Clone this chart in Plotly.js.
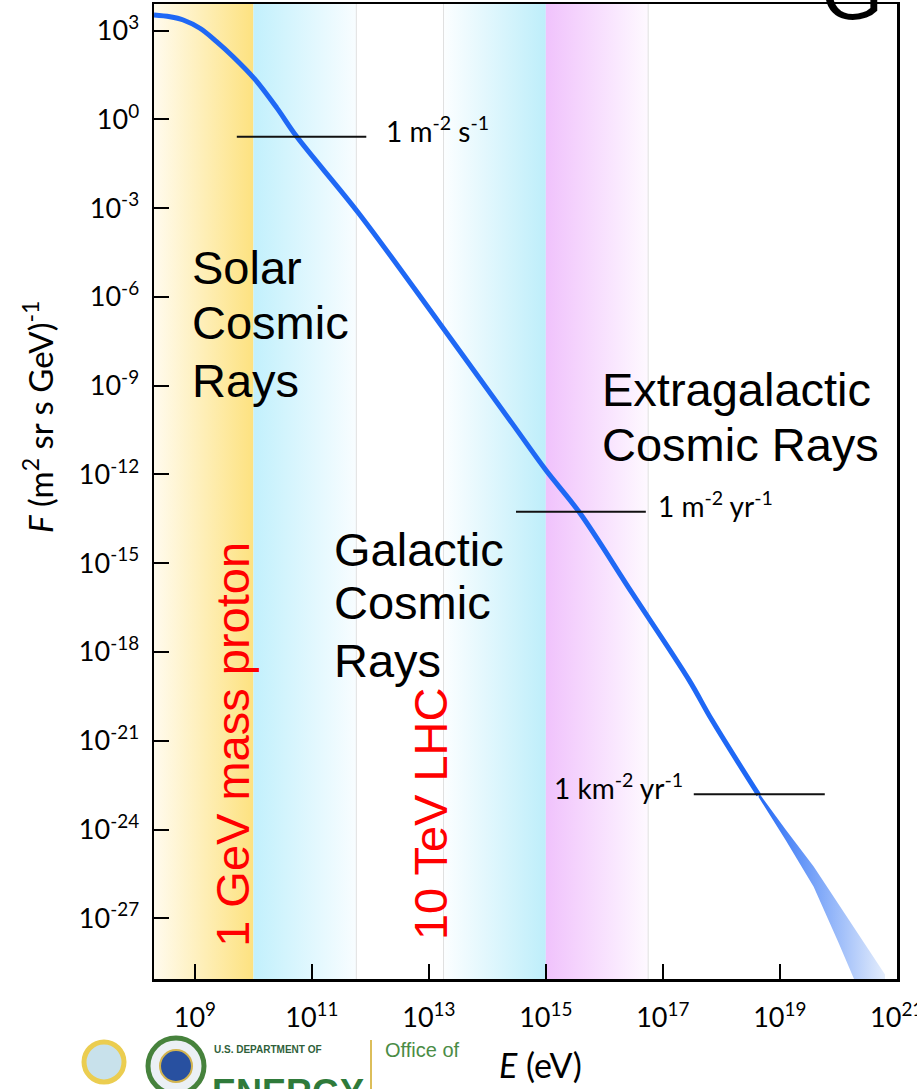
<!DOCTYPE html>
<html>
<head>
<meta charset="utf-8">
<script src="https://cdn.plot.ly/plotly-3.0.1.min.js"></script>
<style>html,body{margin:0;padding:0;background:#fff;}#chart{width:917px;height:1089px;}</style>
</head>
<body>
<div id="chart"></div>
<script>
// ---- data (log10 values) ----
const spectrumLogE = [8.3, 8.573, 8.8, 9.085, 9.37, 9.653, 10.02, 10.4, 10.74, 11.8, 13.18, 14.43, 15.0, 15.57, 16.48, 17.45, 17.84, 18.64];
const spectrumLogF = [3.53, 3.47, 3.36, 3.08, 2.63, 2.12, 1.37, 0.39, -0.58, -3.17, -6.88, -10.29, -11.85, -13.27, -16.02, -18.95, -20.30, -22.83];

// uncertainty band at the highest energies
const bandLogE   = [18.64, 19.1, 19.58, 20.0, 20.48, 20.8];
const bandUpperF = [-22.75, -24.0, -25.25, -26.5, -27.95, -28.9];
const bandLowerF = [-22.91, -24.35, -25.93, -27.8, -30.0, -31.5];

// shaded regions (log10 E bounds)
const solarRegion    = [8.3, 10];
const galacticFadeA  = [10, 11.76];
const galacticFadeB  = [13.25, 15];
const extraRegion    = [15, 16.75];
const fadeEdges      = [11.76, 13.25, 16.75];

// reference flux levels: [logE start, logE end, logF]
const refLevels = [
  [9.716, 11.93, -0.585],
  [14.49, 16.71, -13.26],
  [17.53, 19.77, -22.81]
];
const refLabels = ["1 m<sup>-2</sup> s<sup>-1</sup>", "1 m<sup>-2</sup> yr<sup>-1</sup>", "1 km<sup>-2</sup> yr<sup>-1</sup>"];

// region label lines: [text, logE left, logF centre]
const regionLines = [
  ["Solar", 8.914, -5.02], ["Cosmic", 8.914, -6.88], ["Rays", 8.914, -8.81],
  ["Galactic", 11.34, -14.52], ["Cosmic", 11.34, -16.34], ["Rays", 11.34, -18.27],
  ["Extragalactic", 15.93, -9.14], ["Cosmic Rays", 15.93, -11.0]
];
// red markers: [text, logE centre, logF centre]
const markerLabels = [["1 GeV mass proton", 9.63, -21.11], ["10 TeV LHC", 13.04, -23.47]];

// ticks
const xTickExp  = [9, 11, 13, 15, 17, 19, 21];
const xTickText = ["10<sup>9</sup>", "10<sup>11</sup>", "10<sup>13</sup>", "10<sup>15</sup>", "10<sup>17</sup>", "10<sup>19</sup>", "10<sup>21</sup>"];
const yTickExp  = [3, 0, -3, -6, -9, -12, -15, -18, -21, -24, -27];
const yTickText = ["10<sup>3</sup>", "10<sup>0</sup>", "10<sup>-3</sup>", "10<sup>-6</sup>", "10<sup>-9</sup>", "10<sup>-12</sup>", "10<sup>-15</sup>", "10<sup>-18</sup>", "10<sup>-21</sup>", "10<sup>-24</sup>", "10<sup>-27</sup>"];

const xRangeLog = [8.3, 21.005];
const yRangeLog = [-29.05, 3.9];

// ---- build ----
const p10 = v => Math.pow(10, v);
const yLo = 1e-32, yHi = 1e6;

function region(bounds, c0, c1) {
  const a = p10(bounds[0]), b = p10(bounds[1]);
  return {
    x: [a, b, b, a, a], y: [yLo, yLo, yHi, yHi, yLo],
    mode: 'lines', fill: 'toself', line: {width: 0},
    fillcolor: c1,
    fillgradient: {type: 'horizontal', colorscale: [[0, c0], [1, c1]]},
    hoverinfo: 'skip', showlegend: false
  };
}

const traces = [];
traces.push(region(solarRegion, 'rgb(255,251,238)', 'rgb(253,226,128)'));
traces.push(region(galacticFadeA, 'rgb(194,240,252)', 'rgb(248,253,255)'));
traces.push(region(galacticFadeB, 'rgb(252,254,255)', 'rgb(190,238,250)'));
traces.push(region(extraRegion, 'rgb(240,194,252)', 'rgb(254,249,255)'));

fadeEdges.forEach(e => traces.push({
  x: [p10(e), p10(e)], y: [yLo, yHi], mode: 'lines',
  line: {color: 'rgb(224,224,224)', width: 1}, hoverinfo: 'skip', showlegend: false
}));

traces.push({
  x: spectrumLogE.map(p10), y: spectrumLogF.map(p10), mode: 'lines',
  line: {color: '#1f68f5', width: 5, shape: 'spline', smoothing: 1.0},
  hoverinfo: 'skip', showlegend: false
});

traces.push({
  x: bandLogE.concat(bandLogE.slice().reverse()).map(p10),
  y: bandUpperF.concat(bandLowerF.slice().reverse()).map(p10),
  mode: 'lines', fill: 'toself', line: {width: 0},
  fillcolor: 'rgb(120,160,248)',
  fillgradient: {type: 'horizontal', colorscale: [[0, 'rgb(35,105,245)'], [1, 'rgb(228,237,252)']]},
  hoverinfo: 'skip', showlegend: false
});

refLevels.forEach(r => traces.push({
  x: [p10(r[0]), p10(r[1])], y: [p10(r[2]), p10(r[2])], mode: 'lines',
  line: {color: '#111', width: 2}, hoverinfo: 'skip', showlegend: false
}));

const big = {family: 'Liberation Sans, Arial, sans-serif', size: 47, color: '#000'};
const red = {family: 'Liberation Sans, Arial, sans-serif', size: 47, color: '#ff0000'};
const small = {family: 'Lato, sans-serif', size: 28, color: '#000'};

const W = 917, H = 1089, L = 154, R = 20, T = 4, B = 110;
const px = x => (x - L) / (W - L - R);
const py = y => (H - B - y) / (H - T - B);

const annotations = [];
regionLines.forEach(r => annotations.push({
  x: r[1], y: r[2], xref: 'x', yref: 'y', text: r[0], showarrow: false,
  xanchor: 'left', yanchor: 'middle', align: 'left', font: big
}));
markerLabels.forEach(m => annotations.push({
  x: m[1], y: m[2], xref: 'x', yref: 'y', text: m[0], textangle: -90, showarrow: false,
  xanchor: 'center', yanchor: 'middle', font: red
}));
annotations.push(
  {x: 12.24, y: refLevels[0][2] + 0.25, xref: 'x', yref: 'y', text: refLabels[0], showarrow: false, xanchor: 'left', yanchor: 'middle', font: small},
  {x: 16.88, y: refLevels[1][2] + 0.25, xref: 'x', yref: 'y', text: refLabels[1], showarrow: false, xanchor: 'left', yanchor: 'middle', font: small},
  {x: 17.38, y: refLevels[2][2] + 0.25, xref: 'x', yref: 'y', text: refLabels[2], showarrow: false, xanchor: 'right', yanchor: 'middle', font: small},
  // axis titles
  {x: px(540), y: py(1064), xref: 'paper', yref: 'paper', text: '<i>E</i> (eV)', showarrow: false, xanchor: 'center', yanchor: 'middle', font: {family: 'Lato, sans-serif', size: 34, color: '#000'}},
  {x: px(38), y: py(417), xref: 'paper', yref: 'paper', text: '<i>F</i> (m<sup>2</sup> sr s GeV)<sup>-1</sup>', textangle: -90, showarrow: false, xanchor: 'center', yanchor: 'middle', font: {family: 'Lato, sans-serif', size: 33, color: '#000'}},
  // cut-off letter at top right
  {x: px(852), y: py(-8), xref: 'paper', yref: 'paper', text: 'G', showarrow: false, xanchor: 'center', yanchor: 'middle', font: {family: 'Liberation Sans, Arial, sans-serif', size: 80, color: '#000'}},
  // logo texts
  {x: px(212), y: py(1049), xref: 'paper', yref: 'paper', text: '<b>U.S. DEPARTMENT OF</b>', showarrow: false, xanchor: 'left', yanchor: 'middle', font: {family: 'Liberation Sans, Arial, sans-serif', size: 10, color: '#2f5f3a'}},
  {x: px(210), y: py(1092), xref: 'paper', yref: 'paper', text: '<b>ENERGY</b>', showarrow: false, xanchor: 'left', yanchor: 'middle', font: {family: 'Liberation Sans, Arial, sans-serif', size: 36, color: '#2f7a3a'}},
  {x: px(383), y: py(1050), xref: 'paper', yref: 'paper', text: 'Office of', showarrow: false, xanchor: 'left', yanchor: 'middle', font: {family: 'Liberation Sans Narrow, Liberation Sans, sans-serif', size: 20, color: '#4a8c45'}}
);

const shapes = [
  {type: 'circle', xref: 'paper', yref: 'paper', x0: px(84), x1: px(124), y0: py(1042), y1: py(1082), fillcolor: 'rgb(200,225,235)', line: {color: 'rgb(235,205,80)', width: 5}, layer: 'above'},
  {type: 'circle', xref: 'paper', yref: 'paper', x0: px(148), x1: px(204), y0: py(1038), y1: py(1094), fillcolor: 'rgb(235,240,245)', line: {color: 'rgb(70,130,60)', width: 5}, layer: 'above'},
  {type: 'circle', xref: 'paper', yref: 'paper', x0: px(160), x1: px(192), y0: py(1050), y1: py(1082), fillcolor: 'rgb(40,80,160)', line: {color: 'rgb(210,180,80)', width: 2}, layer: 'above'},
  {type: 'line', xref: 'paper', yref: 'paper', x0: px(371), x1: px(371), y0: py(1040), y1: py(1089), line: {color: 'rgb(220,190,90)', width: 2}, layer: 'above'}
];

const tickFont = {family: 'Lato, sans-serif', size: 27, color: '#000'};

const layout = {
  width: W, height: H,
  margin: {l: L, r: R, t: T, b: B, pad: 0},
  paper_bgcolor: '#fff', plot_bgcolor: '#fff',
  showlegend: false,
  xaxis: {
    type: 'log', range: xRangeLog, showgrid: false, zeroline: false,
    showline: true, linecolor: '#000', linewidth: 2.5, mirror: true,
    ticks: 'inside', ticklen: 15, tickwidth: 2, tickcolor: '#000',
    tickvals: xTickExp.map(p10), ticktext: xTickText, tickfont: tickFont,
    ticklabelstandoff: 13, ticklabeloverflow: 'allow'
  },
  yaxis: {
    type: 'log', range: yRangeLog, showgrid: false, zeroline: false,
    showline: true, linecolor: '#000', linewidth: 2.5, mirror: true,
    ticks: 'inside', ticklen: 15, tickwidth: 2, tickcolor: '#000',
    tickvals: yTickExp.map(p10), ticktext: yTickText, tickfont: tickFont,
    ticklabelstandoff: 7
  },
  annotations: annotations,
  shapes: shapes
};

Plotly.newPlot('chart', traces, layout, {staticPlot: true, displayModeBar: false});
</script>
</body>
</html>
